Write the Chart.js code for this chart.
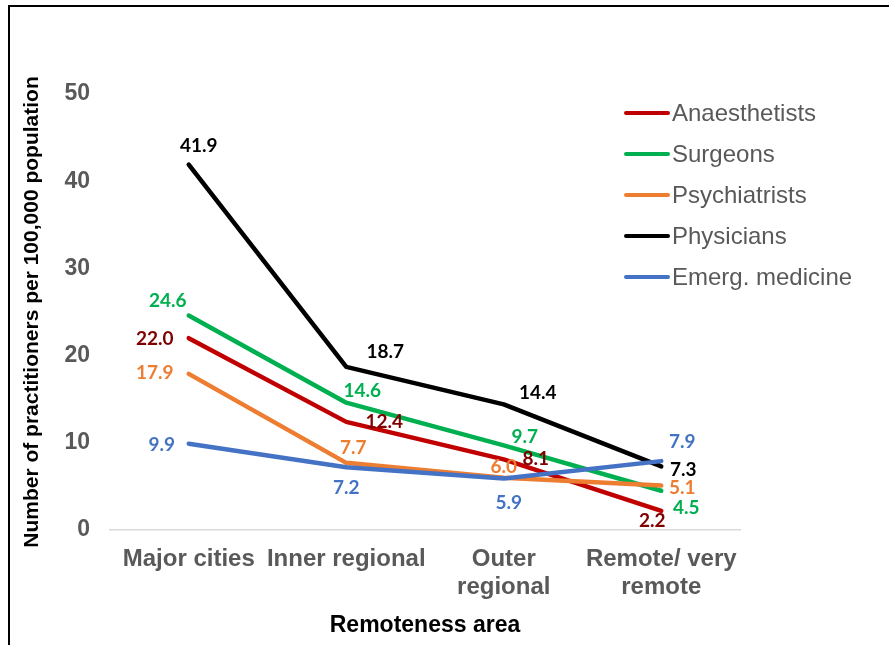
<!DOCTYPE html>
<html lang="en">
<head>
  <meta charset="UTF-8" />
  <title>Practitioners by remoteness area</title>
  <script src="https://cdn.jsdelivr.net/npm/chart.js"></script>
  <style>
    html, body { margin: 0; padding: 0; background: #fff; overflow: hidden; }
    .wrap { position: relative; width: 889px; height: 645px; }
    .frame {
      position: absolute; left: 8px; top: 5px; width: 920px; height: 700px;
      border: 2px solid #000; box-sizing: border-box;
    }
    canvas { position: absolute; left: 0; top: 0; }
  </style>
</head>
<body>
  <div class="wrap">
    <div class="frame"></div>
    <canvas id="chart" width="889" height="645"></canvas>
  </div>
  <script>
    // data
    const areas = ["Major cities", "Inner regional", ["Outer", "regional"], ["Remote/ very", "remote"]];
    const anaesthetists = [22.0, 12.4, 8.1, 2.2];
    const surgeons = [24.6, 14.6, 9.7, 4.5];
    const psychiatrists = [17.9, 7.7, 6.0, 5.1];
    const physicians = [41.9, 18.7, 14.4, 7.3];
    const emergMedicine = [9.9, 7.2, 5.9, 7.9];
    const yTicks = [0, 10, 20, 30, 40, 50];

    const series = [
      { label: "Anaesthetists", data: anaesthetists, color: "#C00000", text: "#7F0000" },
      { label: "Surgeons", data: surgeons, color: "#00B050", text: "#00B050" },
      { label: "Psychiatrists", data: psychiatrists, color: "#ED7D31", text: "#ED7D31" },
      { label: "Physicians", data: physicians, color: "#000000", text: "#000000" },
      { label: "Emerg. medicine", data: emergMedicine, color: "#4472C4", text: "#4472C4" }
    ];

    // where each value label sits relative to its point (dx, dy in px)
    const labelOffsets = [
      [[-34, 1], [38, 0], [32, 0], [-9, 10]],
      [[-21, -15], [16, -12], [21, -9], [25, 17]],
      [[-34, -1], [7, -15], [0, -11], [21, 2]],
      [[10, -19], [39, -15], [34, -12], [22, 4]],
      [[-27, 1], [0, 21], [5, 24], [21, -19]]
    ];

    const valueLabels = {
      id: "valueLabels",
      afterDatasetsDraw(chart) {
        const ctx = chart.ctx;
        ctx.save();
        ctx.font = "bold 19px Lato, 'Open Sans', sans-serif";
        ctx.textAlign = "center";
        ctx.textBaseline = "middle";
        chart.data.datasets.forEach((ds, i) => {
          const meta = chart.getDatasetMeta(i);
          ctx.fillStyle = series[i].text;
          meta.data.forEach((pt, j) => {
            const [dx, dy] = labelOffsets[i][j];
            ctx.fillText(ds.data[j].toFixed(1), pt.x + dx, pt.y + dy);
          });
        });
        ctx.restore();
      }
    };

    const sideLegend = {
      id: "sideLegend",
      afterDraw(chart) {
        const ctx = chart.ctx;
        ctx.save();
        ctx.font = "24px 'Liberation Sans', Arial, sans-serif";
        ctx.textBaseline = "middle";
        ctx.lineWidth = 4;
        ctx.lineCap = "round";
        series.forEach((s, i) => {
          const y = 113 + i * 41;
          ctx.strokeStyle = s.color;
          ctx.beginPath();
          ctx.moveTo(626, y);
          ctx.lineTo(668, y);
          ctx.stroke();
          ctx.fillStyle = "#595959";
          ctx.fillText(s.label, 672, y + 1);
        });
        ctx.restore();
      }
    };

    new Chart(document.getElementById("chart"), {
      type: "line",
      data: {
        labels: areas,
        datasets: series.map((s, i) => ({
          label: s.label,
          data: s.data,
          borderColor: s.color,
          backgroundColor: s.color,
          borderWidth: 4.5,
          borderCapStyle: "round",
          borderJoinStyle: "round",
          pointRadius: 0,
          tension: 0,
          fill: false,
          order: series.length - i
        }))
      },
      options: {
        responsive: false,
        animation: false,
        devicePixelRatio: 1,
        layout: { padding: { left: 0, right: 149, top: 94, bottom: 0 } },
        plugins: { legend: { display: false }, tooltip: { enabled: false } },
        scales: {
          x: {
            offset: true,
            grid: { display: false, drawTicks: false },
            border: { display: true, color: "#D9D9D9", width: 1.5 },
            ticks: {
              autoSkip: false, maxRotation: 0, padding: 15,
              color: "#595959",
              font: { family: "'Liberation Sans', Arial, sans-serif", size: 24, weight: "bold", lineHeight: 1.17 }
            },
            title: {
              display: true, text: "Remoteness area", color: "#000",
              padding: { top: 0, bottom: 6 },
              font: { family: "'Liberation Sans', Arial, sans-serif", size: 23, weight: "bold" }
            },
            afterFit(s) { s.height = 115; }
          },
          y: {
            min: 0, max: 50,
            afterBuildTicks(s) { s.ticks = yTicks.map(v => ({ value: v })); },
            grid: { display: false, drawTicks: false },
            border: { display: false },
            ticks: {
              padding: 20, color: "#595959",
              font: { family: "'Liberation Sans', Arial, sans-serif", size: 23, weight: "bold" }
            },
            title: {
              display: true, text: "Number of practitioners per 100,000 population", color: "#000",
              padding: { top: 20, bottom: 0 },
              font: { family: "'Liberation Sans', Arial, sans-serif", size: 21, weight: "bold" }
            },
            afterFit(s) { s.width = 110; }
          }
        }
      },
      plugins: [valueLabels, sideLegend]
    });
  </script>
</body>
</html>
